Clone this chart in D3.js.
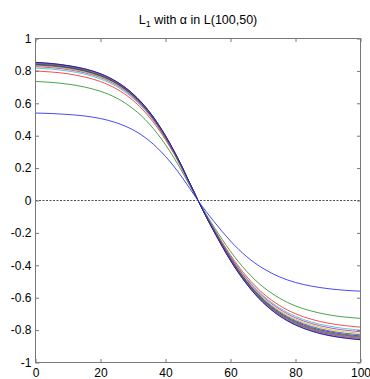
<!DOCTYPE html>
<html>
<head>
<meta charset="utf-8">
<script src="https://cdn.jsdelivr.net/npm/d3@7"></script>
<style>
  body { margin: 0; background: #fff; }
  svg text { font-family: "Liberation Sans", Arial, Helvetica, sans-serif; }
</style>
</head>
<body>
<svg id="chart" width="370" height="379"></svg>
<script>
// Sample positions along the horizontal axis
const xSamples = [0, 5, 10, 15, 20, 25, 30, 35, 40, 45, 50, 55, 60, 65, 70, 75, 80, 85, 90, 95, 100];

// Tick values and their labels
const xTicks = [0, 20, 40, 60, 80, 100];
const xTickLabels = ["0", "20", "40", "60", "80", "100"];
const yTicks = [-1, -0.8, -0.6, -0.4, -0.2, 0, 0.2, 0.4, 0.6, 0.8, 1];
const yTickLabels = ["-1", "-0.8", "-0.6", "-0.4", "-0.2", "0", "0.2", "0.4", "0.6", "0.8", "1"];

// L1 curves, one per alpha, in plotting order
const curve01 = [0.540, 0.537, 0.531, 0.522, 0.506, 0.479, 0.436, 0.369, 0.272, 0.146, 0,
                 -0.132, -0.250, -0.347, -0.419, -0.471, -0.506, -0.529, -0.544, -0.554, -0.560];
const curve02 = [0.735, 0.729, 0.718, 0.701, 0.674, 0.632, 0.567, 0.473, 0.344, 0.182, 0,
                 -0.165, -0.314, -0.438, -0.533, -0.602, -0.651, -0.683, -0.705, -0.719, -0.728];
const curve03 = [0.800, 0.793, 0.782, 0.763, 0.734, 0.688, 0.618, 0.515, 0.375, 0.199, 0,
                 -0.177, -0.337, -0.470, -0.573, -0.647, -0.699, -0.734, -0.757, -0.772, -0.782];
const curve04 = [0.818, 0.811, 0.799, 0.781, 0.750, 0.703, 0.631, 0.527, 0.383, 0.203, 0,
                 -0.181, -0.345, -0.481, -0.586, -0.662, -0.715, -0.751, -0.774, -0.790, -0.800];
const curve05 = [0.827, 0.820, 0.808, 0.789, 0.759, 0.711, 0.638, 0.532, 0.387, 0.205, 0,
                 -0.183, -0.349, -0.487, -0.593, -0.670, -0.724, -0.760, -0.784, -0.800, -0.810];
const curve06 = [0.832, 0.825, 0.813, 0.794, 0.763, 0.715, 0.642, 0.536, 0.390, 0.207, 0,
                 -0.186, -0.354, -0.493, -0.601, -0.679, -0.733, -0.769, -0.794, -0.810, -0.820];
const curve07 = [0.837, 0.830, 0.818, 0.799, 0.768, 0.720, 0.646, 0.539, 0.392, 0.208, 0,
                 -0.188, -0.358, -0.499, -0.607, -0.686, -0.741, -0.778, -0.803, -0.819, -0.829];
const curve08 = [0.841, 0.834, 0.822, 0.802, 0.772, 0.723, 0.649, 0.541, 0.394, 0.209, 0,
                 -0.189, -0.361, -0.503, -0.612, -0.692, -0.747, -0.785, -0.809, -0.826, -0.836];
const curve09 = [0.843, 0.836, 0.824, 0.804, 0.773, 0.725, 0.651, 0.543, 0.395, 0.209, 0,
                 -0.190, -0.363, -0.506, -0.616, -0.696, -0.752, -0.790, -0.815, -0.831, -0.842];
const curve10 = [0.846, 0.839, 0.827, 0.807, 0.776, 0.727, 0.653, 0.545, 0.396, 0.210, 0,
                 -0.191, -0.365, -0.509, -0.620, -0.700, -0.756, -0.794, -0.819, -0.835, -0.846];
const curve11 = [0.848, 0.841, 0.829, 0.809, 0.778, 0.729, 0.655, 0.546, 0.397, 0.210, 0,
                 -0.192, -0.366, -0.511, -0.622, -0.703, -0.759, -0.797, -0.822, -0.839, -0.850];
const curve12 = [0.849, 0.842, 0.830, 0.810, 0.779, 0.730, 0.655, 0.547, 0.398, 0.211, 0,
                 -0.193, -0.368, -0.513, -0.624, -0.705, -0.762, -0.800, -0.825, -0.842, -0.853];
const curve13 = [0.851, 0.844, 0.832, 0.812, 0.781, 0.732, 0.657, 0.548, 0.399, 0.211, 0,
                 -0.194, -0.370, -0.515, -0.628, -0.709, -0.766, -0.804, -0.830, -0.846, -0.857];
const curve14 = [0.852, 0.845, 0.832, 0.813, 0.782, 0.733, 0.658, 0.549, 0.399, 0.211, 0,
                 -0.194, -0.370, -0.516, -0.629, -0.710, -0.767, -0.806, -0.831, -0.848, -0.859];
const curve15 = [0.853, 0.846, 0.833, 0.814, 0.783, 0.733, 0.658, 0.549, 0.400, 0.212, 0,
                 -0.195, -0.371, -0.517, -0.630, -0.712, -0.769, -0.807, -0.833, -0.849, -0.860];

const curves = [curve01, curve02, curve03, curve04, curve05, curve06, curve07, curve08,
                curve09, curve10, curve11, curve12, curve13, curve14, curve15];

// Line colours cycle through this order
const colorOrder = ["#0000ff", "#008000", "#ff0000", "#00bfbf", "#bf00bf", "#bfbf00", "#404040"];

const svg = d3.select("#chart");

const x = d3.scaleLinear().domain([0, 100]).range([35.5, 360.5]);
const y = d3.scaleLinear().domain([-1, 1]).range([362.5, 38.5]);

// Title with subscript and greek alpha
const title = svg.append("text")
  .attr("x", (x(0) + x(100)) / 2)
  .attr("y", 23.5)
  .attr("text-anchor", "middle")
  .attr("font-size", 12.5)
  .attr("fill", "#000");
title.append("tspan").text("L");
title.append("tspan").attr("font-size", 9).attr("dy", 3).text("1");
title.append("tspan").attr("dy", -3).text(" with α in L(100,50)");

// Dashed zero line
svg.append("line")
  .attr("x1", x(0)).attr("x2", x(100))
  .attr("y1", y(0)).attr("y2", y(0))
  .attr("stroke", "#000")
  .attr("stroke-width", 0.7)
  .attr("stroke-dasharray", "2,1.5");

// Curves
const line = d3.line()
  .x((d, i) => x(xSamples[i]))
  .y(d => y(d))
  .curve(d3.curveNatural);

svg.append("g")
  .selectAll("path")
  .data(curves)
  .join("path")
  .attr("d", d => line(d))
  .attr("fill", "none")
  .attr("stroke", (d, i) => colorOrder[i % colorOrder.length])
  .attr("stroke-width", 0.9)
  .attr("stroke-opacity", 0.8);

// Axes with inward ticks on all four sides
function styleAxis(g) {
  g.select(".domain").remove();
  g.selectAll(".tick line").attr("stroke", "#777").attr("stroke-width", 1);
  g.selectAll(".tick text").attr("fill", "#000").attr("font-size", 12)
    .attr("font-family", "Liberation Sans, Arial, Helvetica, sans-serif");
}

svg.append("g")
  .attr("transform", `translate(0,${y(-1)})`)
  .call(d3.axisBottom(x).tickValues(xTicks).tickSizeInner(-3.5).tickSizeOuter(0).tickPadding(5.5)
    .tickFormat((d, i) => xTickLabels[i]))
  .call(styleAxis);

svg.append("g")
  .attr("transform", `translate(0,${y(1)})`)
  .call(d3.axisTop(x).tickValues(xTicks).tickSizeInner(-3.5).tickSizeOuter(0).tickFormat(""))
  .call(styleAxis);

svg.append("g")
  .attr("transform", `translate(${x(0)},0)`)
  .call(d3.axisLeft(y).tickValues(yTicks).tickSizeInner(-3.5).tickSizeOuter(0).tickPadding(4)
    .tickFormat((d, i) => yTickLabels[i]))
  .call(styleAxis);

svg.append("g")
  .attr("transform", `translate(${x(100)},0)`)
  .call(d3.axisRight(y).tickValues(yTicks).tickSizeInner(-3.5).tickSizeOuter(0).tickFormat(""))
  .call(styleAxis);

// Plot box
svg.append("rect")
  .attr("x", x(0)).attr("y", y(1))
  .attr("width", x(100) - x(0)).attr("height", y(-1) - y(1))
  .attr("fill", "none")
  .attr("stroke", "#777")
  .attr("stroke-width", 1);
</script>
</body>
</html>
